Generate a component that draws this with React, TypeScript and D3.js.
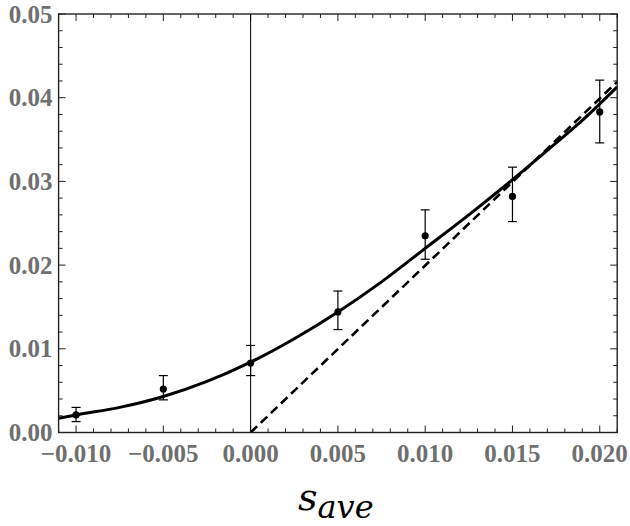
import React from "react";
import * as d3 from "d3";

// Measured points with error bars
const sValues = [-0.01, -0.005, 0.0, 0.005, 0.01, 0.015, 0.02];
const yValues = [0.0021, 0.0052, 0.0083, 0.0144, 0.0235, 0.0282, 0.0383];
const yLow = [0.0013, 0.0039, 0.0068, 0.0123, 0.0207, 0.0252, 0.0346];
const yHigh = [0.003, 0.0068, 0.0104, 0.0169, 0.0266, 0.0317, 0.0421];

// Smooth fitted curve, sampled
const curveX = [-0.011, -0.01, -0.0075, -0.005, -0.0025, 0.0, 0.0025, 0.005, 0.0075, 0.01, 0.0125, 0.015, 0.0175, 0.019, 0.021];
const curveY = [0.0017, 0.0021, 0.003, 0.0043, 0.0061, 0.0084, 0.0112, 0.0144, 0.018, 0.022, 0.026, 0.0302, 0.0346, 0.0373, 0.0413];

// Asymptotic straight line
const lineX = [0.0, 0.021];
const lineY = [0.0, 0.0419];

const xMajor = [-0.01, -0.005, 0.0, 0.005, 0.01, 0.015, 0.02];
const xMajorLabels = ["\u22120.010", "\u22120.005", "0.000", "0.005", "0.010", "0.015", "0.020"];
const yMajor = [0.0, 0.01, 0.02, 0.03, 0.04, 0.05];
const yMajorLabels = ["0.00", "0.01", "0.02", "0.03", "0.04", "0.05"];

const W = 630;
const H = 526;
const left = 58.6;
const right = 617.2;
const top = 14;
const bottom = 432.5;

export default function App() {
  const x = d3.scaleLinear().domain([-0.011, 0.021]).range([left, right]);
  const y = d3.scaleLinear().domain([0, 0.05]).range([bottom, top]);

  const xMinor = d3.range(-11, 22).map((i) => i / 1000);
  const yMinor = d3.range(0, 26).map((i) => (i * 2) / 1000);
  const isMajorX = (v: number) => xMajor.some((m) => Math.abs(m - v) < 1e-9);
  const isMajorY = (v: number) => yMajor.some((m) => Math.abs(m - v) < 1e-9);

  const curvePath =
    d3
      .line<number>()
      .x((_, i) => x(curveX[i]))
      .y((d) => y(d))
      .curve(d3.curveMonotoneX)(curveY) || "";
  const dashPath =
    d3
      .line<number>()
      .x((_, i) => x(lineX[i]))
      .y((d) => y(d))(lineY) || "";

  const labelFont = "'Liberation Serif', 'Times New Roman', serif";
  const labelColor = "#6f6f6f";
  const majorLen = 7;
  const minorLen = 4;

  return (
    <svg
      width={W}
      height={H}
      style={{ position: "absolute", left: 0, top: 0, background: "#fff" }}
    >
      <defs>
        <clipPath id="plotArea">
          <rect x={left} y={top} width={right - left} height={bottom - top} />
        </clipPath>
      </defs>

      {/* ticks on all four sides, pointing inward */}
      <g stroke="#222" strokeWidth={1}>
        {xMinor.map((v) => {
          const len = isMajorX(v) ? majorLen : minorLen;
          return (
            <g key={"xt" + v}>
              <line x1={x(v)} x2={x(v)} y1={bottom} y2={bottom - len} />
              <line x1={x(v)} x2={x(v)} y1={top} y2={top + len} />
            </g>
          );
        })}
        {yMinor.map((v) => {
          const len = isMajorY(v) ? majorLen : minorLen;
          return (
            <g key={"yt" + v}>
              <line x1={left} x2={left + len} y1={y(v)} y2={y(v)} />
              <line x1={right} x2={right - len} y1={y(v)} y2={y(v)} />
            </g>
          );
        })}
      </g>

      {/* vertical reference line at zero */}
      <line x1={x(0)} x2={x(0)} y1={top} y2={bottom} stroke="#000" strokeWidth={1} />

      <g clipPath="url(#plotArea)">
        <path d={dashPath} fill="none" stroke="#000" strokeWidth={2.6} strokeDasharray="9,5" />
        <path d={curvePath} fill="none" stroke="#000" strokeWidth={3} />
      </g>

      {/* data points with error bars */}
      <g stroke="#000" strokeWidth={1.2}>
        {sValues.map((s, i) => (
          <g key={"pt" + i}>
            <line x1={x(s)} x2={x(s)} y1={y(yLow[i])} y2={y(yHigh[i])} />
            <line x1={x(s) - 4.5} x2={x(s) + 4.5} y1={y(yLow[i])} y2={y(yLow[i])} />
            <line x1={x(s) - 4.5} x2={x(s) + 4.5} y1={y(yHigh[i])} y2={y(yHigh[i])} />
            <circle cx={x(s)} cy={y(yValues[i])} r={3.6} fill="#000" stroke="none" />
          </g>
        ))}
      </g>

      {/* frame */}
      <rect
        x={left}
        y={top}
        width={right - left}
        height={bottom - top}
        fill="none"
        stroke="#222"
        strokeWidth={1.4}
      />

      {/* tick labels */}
      <g fontFamily={labelFont} fontWeight="bold" fontSize={25} fill={labelColor}>
        {xMajor.map((v, i) => (
          <text key={"xl" + i} x={x(v)} y={461.5} textAnchor="middle">
            {xMajorLabels[i]}
          </text>
        ))}
        {yMajor.map((v, i) => (
          <text key={"yl" + i} x={52.5} y={y(v) + 8.5} textAnchor="end">
            {yMajorLabels[i]}
          </text>
        ))}
      </g>

      {/* axis title */}
      <text x={298} y={510} fontFamily="'DejaVu Serif', serif" fontStyle="italic" fill="#000">
        <tspan fontSize={38}>s</tspan>
        <tspan fontSize={32} dy={8}>ave</tspan>
      </text>
    </svg>
  );
}
